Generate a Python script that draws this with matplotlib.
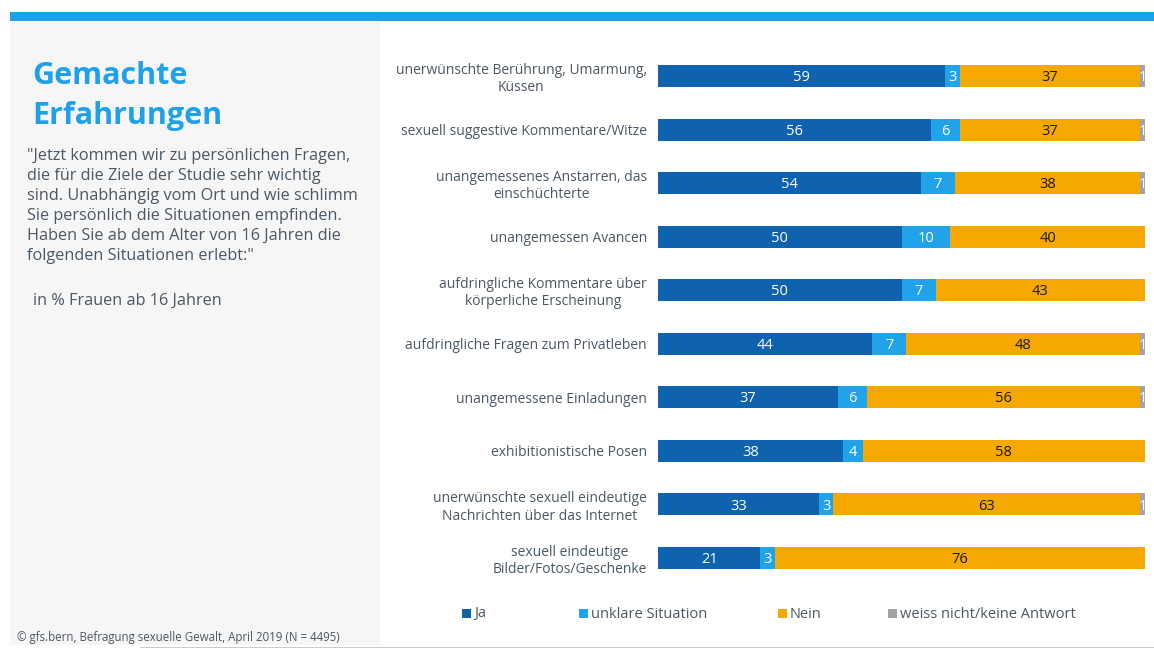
import matplotlib
matplotlib.use("Agg")
import matplotlib.pyplot as plt
from matplotlib.patches import Rectangle
import numpy as np

categories = [
    "unerwünschte Berührung, Umarmung,\nKüssen",
    "sexuell suggestive Kommentare/Witze",
    "unangemessenes Anstarren, das\neinschüchterte",
    "unangemessen Avancen",
    "aufdringliche Kommentare über\nkörperliche Erscheinung",
    "aufdringliche Fragen zum Privatleben",
    "unangemessene Einladungen",
    "exhibitionistische Posen",
    "unerwünschte sexuell eindeutige\nNachrichten über das Internet",
    "sexuell eindeutige\nBilder/Fotos/Geschenke",
]
series_names = ["Ja", "unklare Situation", "Nein", "weiss nicht/keine Antwort"]
ja = [59, 56, 54, 50, 50, 44, 37, 38, 33, 21]
unklar = [3, 6, 7, 10, 7, 7, 6, 4, 3, 3]
nein = [37, 37, 38, 40, 43, 48, 56, 58, 63, 76]
weiss = [1, 1, 1, 0, 0, 1, 1, 0, 1, 0]

colors = ["#0F62AE", "#21A3EA", "#F5A800", "#A3A3A3"]
text_colors = ["white", "white", "#1a1a1a", "white"]
txt = "#4A5866"
font = ["Open Sans", "DejaVu Sans"]
plt.rcParams["font.family"] = font

W, H = 1154, 649
fig = plt.figure(figsize=(W / 100, H / 100), dpi=100)
fig.patch.set_facecolor("white")

def fx(x):
    return x / W

def fy(y):
    return 1 - y / H

# top band
fig.patches.append(Rectangle((fx(10), fy(21)), fx(1154 - 10), 9 / H, transform=fig.transFigure,
                             facecolor="#1FA1EA", edgecolor="none", zorder=0))
# left panel
fig.patches.append(Rectangle((fx(10), fy(645)), fx(370), 623 / H, transform=fig.transFigure,
                             facecolor="#F6F6F6", edgecolor="none", zorder=0))
# bottom line
fig.patches.append(Rectangle((fx(140), fy(648)), fx(1014), 1.5 / H, transform=fig.transFigure,
                             facecolor="#CCCCCC", edgecolor="none", zorder=0))

fig.text(fx(32), fy(76), "Gemachte", fontsize=22, fontweight="bold", color="#1FA1EA", va="center", ha="left")
fig.text(fx(32), fy(116), "Erfahrungen", fontsize=22, fontweight="bold", color="#1FA1EA", va="center", ha="left")
quote = ('"Jetzt kommen wir zu persönlichen Fragen,\n'
         'die für die Ziele der Studie sehr wichtig\n'
         'sind. Unabhängig vom Ort und wie schlimm\n'
         'Sie persönlich die Situationen empfinden.\n'
         'Haben Sie ab dem Alter von 16 Jahren die\n'
         'folgenden Situationen erlebt:"')
fig.text(fx(27), fy(148), quote, fontsize=11.7, color=txt, va="top", ha="left", linespacing=1.33)
fig.text(fx(33), fy(301), "in % Frauen ab 16 Jahren", fontsize=11.7, color=txt, va="center", ha="left")
fig.text(fx(17), fy(637.5), "© gfs.bern, Befragung sexuelle Gewalt, April 2019 (N = 4495)", fontsize=8.3,
         color=txt, va="center", ha="left")

# axes
top_c, bot_c = 76, 558
sp = (bot_c - top_c) / 9
ax_top = top_c - sp / 2
ax_bot = bot_c + sp / 2
ax = fig.add_axes([fx(658), fy(ax_bot), fx(1145 - 658), (ax_bot - ax_top) / H])
ax.set_xlim(0, 100)
n = len(categories)
y = np.arange(n)
ax.set_ylim(n - 0.5, -0.5)
for s in ax.spines.values():
    s.set_visible(False)
ax.set_xticks([])
ax.set_yticks(y)
ax.set_yticklabels(categories, fontsize=10, color=txt, multialignment="center")
ax.tick_params(axis="y", length=0, pad=8)
ax.patch.set_alpha(0)

data = [ja, unklar, nein, weiss]
left = np.zeros(n)
for vals, c, tc in zip(data, colors, text_colors):
    vals = np.array(vals, dtype=float)
    ax.barh(y, vals, left=left, height=0.41, color=c, edgecolor="none")
    for i, v in enumerate(vals):
        if v > 0:
            cx = left[i] + v / 2
            ax.text(cx, y[i] + 0.03, f"{int(v)}", ha="center", va="center", color=tc, fontsize=10.5)
    left += vals

# legend
leg_x = [466, 583, 782, 892]
for name, c, lx in zip(series_names, colors, leg_x):
    fig.patches.append(Rectangle((fx(lx - 4), fy(618)), 9 / W, 9 / H, transform=fig.transFigure,
                                 facecolor=c, edgecolor="none"))
    fig.text(fx(lx + 8), fy(614), name, fontsize=10.5, color=txt, va="center", ha="left")

fig.savefig("out.png", dpi=100)
